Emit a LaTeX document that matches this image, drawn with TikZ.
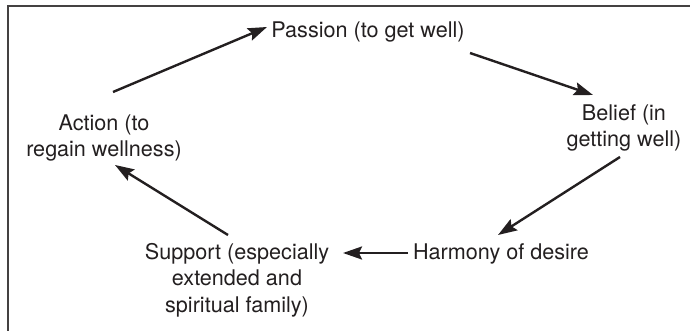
\documentclass[tikz,border=0pt]{standalone}
\usepackage{fontspec}
\setmainfont{TeX Gyre Heros}
\usetikzlibrary{arrows.meta,calc}
\definecolor{ink}{HTML}{231F20}
\tikzset{
  label/.style={text=ink, align=center, inner sep=0pt,
    font=\fontsize{21.6}{26.5}\selectfont},
  flow/.style={draw=ink, line width=2.4pt,
    -{Stealth[length=19pt,width=13pt,inset=3pt]}},
  frame/.style={draw=ink!85, line width=2pt}
}
\begin{document}
\begin{tikzpicture}[x=1pt,y=-1pt]
  \useasboundingbox (0,0) rectangle (690,331);
  % open frame: top and left rules only
  \draw[frame] (690,6) -- (8,6) -- (8,331);

  \node[label] (passion) at (368,32) {Passion (to get well)};
  \node[label] (belief)  at (624,128) {Belief (in\\getting well)};
  \node[label] (harmony) at (501,254) {Harmony of desire};
  \node[label] (support) at (237,280) {Support (especially\\extended and\\spiritual family)};
  \node[label] (action)  at (104,138) {Action (to\\regain wellness)};

  \draw[flow] ($(action)+(9,-46)$) -- ($(passion)+(-101,-5)$);
  \draw[flow] ($(passion)+(102,21)$) -- ($(belief)+(-31,-33)$);
  \draw[flow] ($(belief)+(-4,29)$) -- ($(harmony)+(-3,-19)$);
  \draw[flow] ($(harmony)+(-93,-1)$) -- ($(support)+(106,-27)$);
  \draw[flow] ($(support)+(-9,-45)$) -- ($(action)+(11,27)$);
\end{tikzpicture}
\end{document}
